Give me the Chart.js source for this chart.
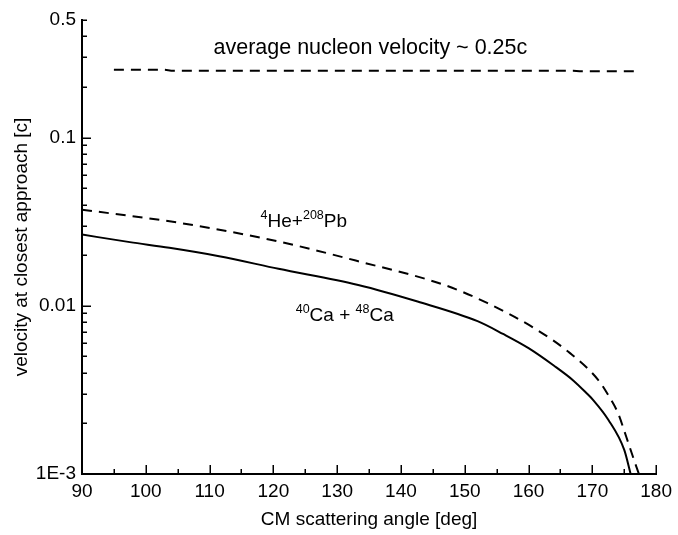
<!DOCTYPE html>
<html>
<head>
<meta charset="utf-8">
<script src="https://cdn.jsdelivr.net/npm/chart.js@4"></script>
<style>
    html, body { margin: 0; padding: 0; background: #fff; }
</style>
</head>
<body>
<canvas id="velocity-chart" width="678" height="535"></canvas>
<script>
// Curve for 40Ca + 48Ca (solid line), angle in deg and velocity in c
let caAngles = [90, 97.5, 103.7, 111.5, 120.8, 133.3, 142.6, 152, 156, 160, 164, 167, 169.1, 170.1, 172.5, 175.0, 176.0]
let caVelocity = [0.0265, 0.0239, 0.0221, 0.0197, 0.0166, 0.0133, 0.0106, 0.0081, 0.0068, 0.0056, 0.0044, 0.0036, 0.00302, 0.00276, 0.0021, 0.00139, 0.001]

// Curve for 4He + 208Pb (dashed line)
let heAngles = [90, 105.3, 120.8, 133.3, 146.8, 153.5, 161.3, 166.5, 170.9, 172.5, 174.0, 175.3, 176.7, 177.3]
let heVelocity = [0.0373, 0.0311, 0.0241, 0.0184, 0.0133, 0.0104, 0.0072, 0.00523, 0.00363, 0.00294, 0.00231, 0.00167, 0.00116, 0.001]

// Average nucleon velocity line (dashed, near 0.25c)
let avgAngles = [95, 103, 104, 167, 168, 177]
let avgVelocity = [0.253, 0.253, 0.25, 0.25, 0.248, 0.248]

// Axis ticks
let xMajorTicks = [90, 100, 110, 120, 130, 140, 150, 160, 170, 180]
let xMinorTicks = [95, 105, 115, 125, 135, 145, 155, 165, 175]
let yMajorTicks = [0.001, 0.01, 0.1]
let yLabelTicks = [0.001, 0.01, 0.1, 0.5]
let yTickLabels = ['1E-3', '0.01', '0.1', '0.5']
let yMinorTicks = [0.002, 0.003, 0.004, 0.005, 0.006, 0.007, 0.008, 0.009,
    0.02, 0.03, 0.04, 0.05, 0.06, 0.07, 0.08, 0.09, 0.2, 0.3, 0.4, 0.5]

// Text labels inside the plot, anchored in data units
let avgLabel = 'average nucleon velocity ~ 0.25c'
let avgLabelAt = [135.2, 0.316]
let heLabel = [{text: '4', sup: true}, {text: 'He+'}, {text: '208', sup: true}, {text: 'Pb'}]
let heLabelAt = [118.0, 0.0295]
let caLabel = [{text: '40', sup: true}, {text: 'Ca + '}, {text: '48', sup: true}, {text: 'Ca'}]
let caLabelAt = [123.5, 0.00814]

let fontFamily = "'Liberation Sans', Arial, sans-serif"
Chart.defaults.font.family = fontFamily
Chart.defaults.color = '#000'

function toPoints(xs, ys) {
    return xs.map(function (x, i) { return {x: x, y: ys[i]} })
}

// Draws text made of normal and superscript parts
function drawPieces(ctx, pieces, x, y) {
    pieces.forEach(function (p) {
        ctx.font = (p.sup ? '12.5px ' : '19px ') + fontFamily
        ctx.fillText(p.text, x, p.sup ? y - 7.5 : y)
        x += ctx.measureText(p.text).width
    })
}

// Inside ticks and the text labels
let extrasPlugin = {
    id: 'extras',
    afterDraw: function (chart) {
        let ctx = chart.ctx
        let xs = chart.scales.x
        let ys = chart.scales.y
        let area = chart.chartArea
        ctx.save()
        ctx.strokeStyle = '#000'
        ctx.lineWidth = 1.5
        ctx.beginPath()
        xMajorTicks.concat(xMinorTicks).forEach(function (v) {
            let px = Math.round(xs.getPixelForValue(v)) + 0.25
            let len = xMajorTicks.includes(v) ? 9 : 5
            ctx.moveTo(px, area.bottom)
            ctx.lineTo(px, area.bottom - len)
        })
        yMajorTicks.concat(yMinorTicks).forEach(function (v) {
            let py = Math.round(ys.getPixelForValue(v)) + 0.25
            let len = yMajorTicks.includes(v) ? 9 : 5
            ctx.moveTo(area.left, py)
            ctx.lineTo(area.left + len, py)
        })
        ctx.stroke()

        ctx.fillStyle = '#000'
        ctx.textBaseline = 'alphabetic'
        ctx.textAlign = 'center'
        ctx.font = '21.5px ' + fontFamily
        ctx.fillText(avgLabel, xs.getPixelForValue(avgLabelAt[0]), ys.getPixelForValue(avgLabelAt[1]))
        ctx.textAlign = 'left'
        drawPieces(ctx, heLabel, xs.getPixelForValue(heLabelAt[0]), ys.getPixelForValue(heLabelAt[1]))
        drawPieces(ctx, caLabel, xs.getPixelForValue(caLabelAt[0]), ys.getPixelForValue(caLabelAt[1]))
        ctx.restore()
    }
}

let canvas = document.querySelector('#velocity-chart')
let cxt = canvas.getContext('2d')

let chart = new Chart(cxt, {
    type: 'line',
    data: {
        datasets: [
            {
                label: '40Ca + 48Ca',
                data: toPoints(caAngles, caVelocity),
                borderColor: '#000',
                borderWidth: 2,
                pointRadius: 0,
                cubicInterpolationMode: 'monotone'
            },
            {
                label: '4He + 208Pb',
                data: toPoints(heAngles, heVelocity),
                borderColor: '#000',
                borderWidth: 2,
                borderDash: [10, 7],
                pointRadius: 0,
                cubicInterpolationMode: 'monotone'
            },
            {
                label: 'average nucleon velocity',
                data: toPoints(avgAngles, avgVelocity),
                borderColor: '#000',
                borderWidth: 2,
                borderDash: [10, 7],
                pointRadius: 0
            }
        ]
    },
    options: {
        responsive: false,
        animation: false,
        devicePixelRatio: 1,
        layout: {padding: {top: 20, right: 18, left: 0, bottom: 0}},
        plugins: {
            legend: {display: false},
            tooltip: {enabled: false}
        },
        scales: {
            x: {
                type: 'linear',
                min: 90,
                max: 180,
                grid: {display: false, drawTicks: false},
                border: {display: true, color: '#000', width: 2},
                ticks: {
                    stepSize: 10,
                    padding: 6,
                    maxRotation: 0,
                    font: {size: 19}
                },
                title: {
                    display: true,
                    text: 'CM scattering angle [deg]',
                    font: {size: 19},
                    padding: {top: 0, bottom: 4}
                },
                afterFit: function (scale) { scale.height = 61 }
            },
            y: {
                type: 'logarithmic',
                min: 0.001,
                max: 0.5,
                grid: {display: false, drawTicks: false},
                border: {display: true, color: '#000', width: 2},
                afterBuildTicks: function (scale) {
                    scale.ticks = yLabelTicks.map(function (v) { return {value: v} })
                },
                ticks: {
                    autoSkip: false,
                    padding: 6,
                    font: {size: 19},
                    callback: function (value, index) { return yTickLabels[index] }
                },
                title: {
                    display: true,
                    text: 'velocity at closest approach [c]',
                    font: {size: 19},
                    padding: {top: 10, bottom: 0}
                },
                afterFit: function (scale) { scale.width = 82 }
            }
        }
    },
    plugins: [extrasPlugin]
})
</script>
</body>
</html>
